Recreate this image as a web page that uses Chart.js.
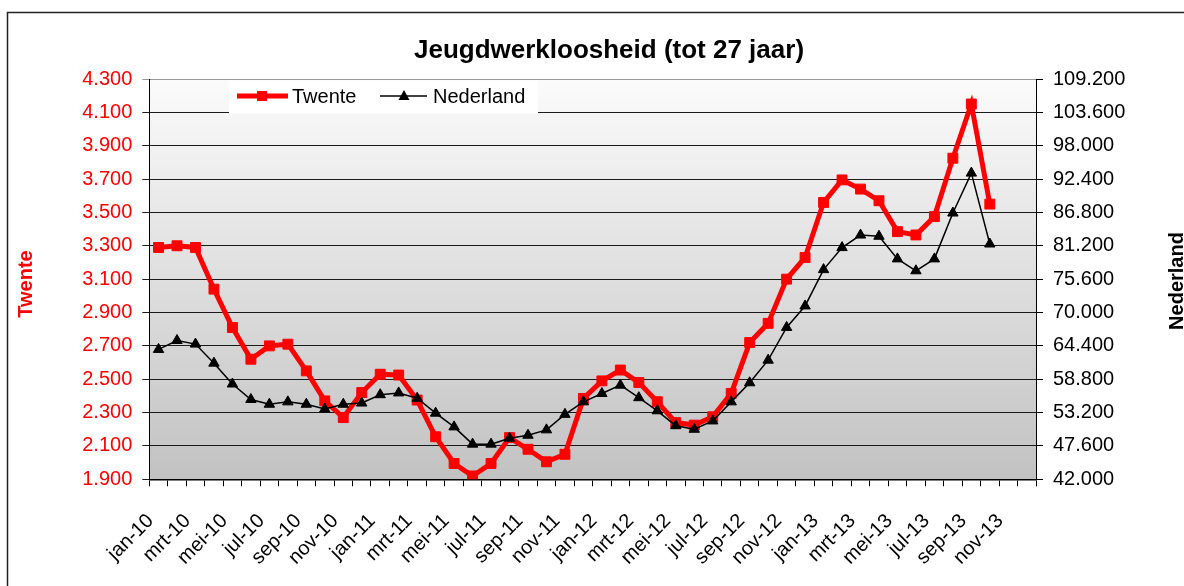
<!DOCTYPE html>
<html>
<head>
<meta charset="utf-8">
<script src="https://cdn.jsdelivr.net/npm/chart.js@4/dist/chart.umd.min.js"></script>
<style>
  html, body { margin: 0; padding: 0; background: #fff; }
  #wrap { width: 1184px; height: 586px; }
</style>
</head>
<body>
<div id="wrap"><canvas id="chart" width="1184" height="586"></canvas></div>
<script>
// maanden jan-10 t/m dec-13 (as loopt door tot dec-13)
const months = ['jan', 'feb', 'mrt', 'apr', 'mei', 'jun', 'jul', 'aug', 'sep', 'okt', 'nov', 'dec'];
const years = ['10', '11', '12', '13'];
const labels = [];
years.forEach(y => months.forEach(m => labels.push(m + '-' + y)));

// jeugdwerkloosheid Twente (linker as)
const twente = [3290, 3300, 3290, 3040, 2810, 2620, 2700, 2710, 2550, 2370,
                2270, 2420, 2530, 2525, 2375, 2155, 1995, 1920, 1995, 2150,
                2080, 2005, 2050, 2385, 2490, 2555, 2480, 2365, 2240, 2225,
                2275, 2415, 2720, 2835, 3100, 3230, 3560, 3695, 3640, 3570,
                3385, 3365, 3475, 3825, 4150, 3550];

// jeugdwerkloosheid Nederland (rechter as)
const nederland = [63800, 65300, 64700, 61500, 58000, 55400, 54600, 55000, 54600, 53800,
                   54600, 54800, 56200, 56500, 55600, 53100, 50800, 47900, 47900, 48900,
                   49400, 50300, 52900, 55000, 56400, 57800, 55700, 53500, 51000, 50400,
                   51800, 55000, 58200, 62000, 67500, 71100, 77200, 80900, 83000, 82800,
                   79000, 77000, 79000, 86700, 93400, 81500];

const leftTicks = { min: 1900, max: 4300, step: 200 };
const rightTicks = { min: 42000, max: 109200, step: 5600 };

const FONT = '"Liberation Sans", Arial, sans-serif';

// getal met punt als duizendtal-scheiding, zoals in het origineel
function fmt(v) {
    const n = Math.round(v);
    return Math.floor(n / 1000) + '.' + String(n % 1000).padStart(3, '0');
}

// achtergrond, kader en verloop in het plotgebied
const backgroundPlugin = {
    id: 'background',
    beforeDraw(chart) {
        const ctx = chart.ctx;
        const a = chart.chartArea;
        ctx.save();
        ctx.fillStyle = '#fff';
        ctx.fillRect(0, 0, chart.width, chart.height);
        ctx.strokeStyle = '#222';
        ctx.lineWidth = 1.5;
        ctx.strokeRect(7.5, 12.5, chart.width + 20, chart.height + 20);
        const grad = ctx.createLinearGradient(0, a.top, 0, a.bottom);
        grad.addColorStop(0, '#fbfbfb');
        grad.addColorStop(1, '#c2c2c2');
        ctx.fillStyle = grad;
        ctx.fillRect(a.left, a.top, a.right - a.left, a.bottom - a.top);
        ctx.restore();
    }
};

// legenda met witte achtergrond binnen het plotgebied
const legendPlugin = {
    id: 'legendBox',
    beforeDatasetsDraw(chart) {
        const ctx = chart.ctx;
        ctx.save();
        ctx.fillStyle = '#fff';
        ctx.fillRect(229, 80.5, 309, 33);
        const y = 96;
        // Twente
        ctx.strokeStyle = '#ff0000';
        ctx.lineWidth = 5;
        ctx.beginPath();
        ctx.moveTo(237, y);
        ctx.lineTo(288, y);
        ctx.stroke();
        ctx.fillStyle = '#ff0000';
        ctx.fillRect(257, y - 5, 10, 10);
        // Nederland
        ctx.strokeStyle = '#000';
        ctx.lineWidth = 1.5;
        ctx.beginPath();
        ctx.moveTo(380, y);
        ctx.lineTo(427, y);
        ctx.stroke();
        ctx.fillStyle = '#000';
        ctx.beginPath();
        ctx.moveTo(404, y - 6);
        ctx.lineTo(409.5, y + 4);
        ctx.lineTo(398.5, y + 4);
        ctx.closePath();
        ctx.fill();
        ctx.font = '20px ' + FONT;
        ctx.textBaseline = 'middle';
        ctx.textAlign = 'left';
        ctx.fillStyle = '#000';
        ctx.fillText('Twente', 292, y + 1);
        ctx.fillText('Nederland', 433, y + 1);
        ctx.restore();
    }
};

// titel en astitels
const titlesPlugin = {
    id: 'titles',
    afterDraw(chart) {
        const ctx = chart.ctx;
        ctx.save();
        ctx.fillStyle = '#000';
        ctx.font = 'bold 26px ' + FONT;
        ctx.textAlign = 'center';
        ctx.textBaseline = 'alphabetic';
        ctx.fillText('Jeugdwerkloosheid (tot 27 jaar)', 609, 58);

        ctx.textBaseline = 'middle';
        ctx.font = 'bold 20px ' + FONT;
        ctx.save();
        ctx.translate(26, 284);
        ctx.rotate(-Math.PI / 2);
        ctx.fillStyle = '#ff0000';
        ctx.fillText('Twente', 0, 0);
        ctx.restore();

        ctx.save();
        ctx.translate(1177, 281);
        ctx.rotate(-Math.PI / 2);
        ctx.fillStyle = '#000';
        ctx.fillText('Nederland', 0, 0);
        ctx.restore();
        ctx.restore();
    }
};

const ctx = document.getElementById('chart').getContext('2d');
new Chart(ctx, {
    type: 'line',
    data: {
        labels: labels,
        datasets: [{
            label: 'Twente',
            data: twente,
            yAxisID: 'y',
            borderColor: '#ff0000',
            backgroundColor: '#ff0000',
            borderWidth: 5,
            pointStyle: 'rect',
            pointRadius: 7,
            pointBorderWidth: 1,
            tension: 0,
            order: 2
        }, {
            label: 'Nederland',
            data: nederland,
            yAxisID: 'y2',
            borderColor: '#000',
            backgroundColor: '#000',
            borderWidth: 1.5,
            pointStyle: 'triangle',
            pointRadius: 6,
            pointBorderWidth: 1,
            tension: 0,
            order: 1
        }]
    },
    options: {
        responsive: false,
        animation: false,
        layout: { padding: { top: 79, left: 0, right: 0, bottom: 0 } },
        plugins: {
            legend: { display: false },
            title: { display: false },
            tooltip: { enabled: false }
        },
        scales: {
            x: {
                offset: true,
                grid: { offset: true, drawOnChartArea: false, tickLength: 7, color: '#000' },
                border: { color: '#000', width: 1.5 },
                ticks: {
                    autoSkip: false,
                    minRotation: 45,
                    maxRotation: 45,
                    padding: 23,
                    labelOffset: -8,
                    color: '#000',
                    font: { family: FONT, size: 20 },
                    callback: function(val, i) { return i % 2 === 0 ? labels[i] : ''; }
                },
                afterFit: function(scale) { scale.height = 586 - 479.3; }
            },
            y: {
                position: 'left',
                min: leftTicks.min,
                max: leftTicks.max,
                grid: {
                    tickLength: 7,
                    color: function(c) { return c.tick && c.tick.value === leftTicks.max ? '#999' : '#1a1a1a'; }
                },
                border: { color: '#000', width: 1 },
                ticks: {
                    stepSize: leftTicks.step,
                    padding: 10,
                    color: '#ff0000',
                    font: { family: FONT, size: 20 },
                    callback: function(v) { return fmt(v); }
                },
                afterFit: function(scale) { scale.width = 149.3; }
            },
            y2: {
                position: 'right',
                min: rightTicks.min,
                max: rightTicks.max,
                grid: { drawOnChartArea: false, tickLength: 7, color: '#000' },
                border: { color: '#000', width: 1 },
                ticks: {
                    stepSize: rightTicks.step,
                    padding: 10,
                    color: '#000',
                    font: { family: FONT, size: 20 },
                    callback: function(v) { return fmt(v); }
                },
                afterFit: function(scale) { scale.width = 1184 - 1036; }
            }
        }
    },
    plugins: [backgroundPlugin, legendPlugin, titlesPlugin]
});
</script>
</body>
</html>
